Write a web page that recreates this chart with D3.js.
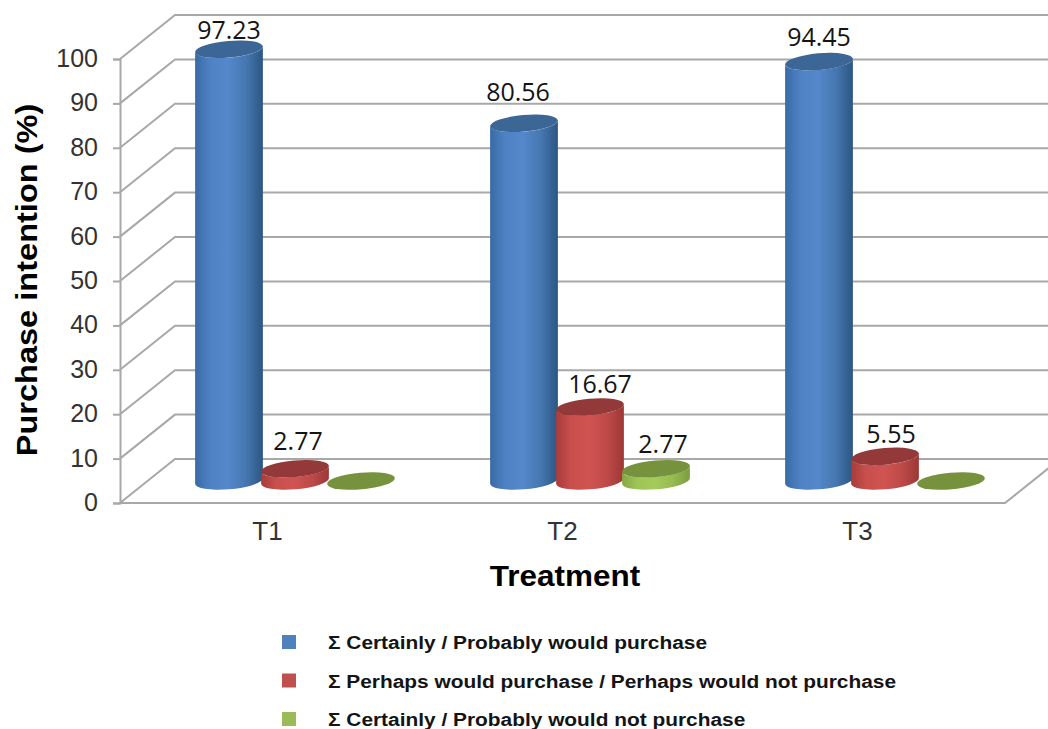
<!DOCTYPE html>
<html>
<head>
<meta charset="utf-8">
<script src="https://cdn.jsdelivr.net/npm/d3@7"></script>
<style>
html, body { margin: 0; padding: 0; background: #fff; }
svg { display: block; }
text { fill: #141414; }
</style>
</head>
<body>
<svg id="chart" width="1048" height="729"></svg>
<script>
// Chart data
const treatments = ["T1", "T2", "T3"];
const seriesNames = [
  "Σ Certainly / Probably would purchase",
  "Σ Perhaps would purchase / Perhaps would not purchase",
  "Σ Certainly / Probably would not purchase"
];
const certainlyWould = [97.23, 80.56, 94.45];
const perhapsWould = [2.77, 16.67, 5.55];
const certainlyNot = [0, 2.77, 0];
const seriesValues = [certainlyWould, perhapsWould, certainlyNot];
const yTicks = d3.range(0, 101, 10);

// Layout
const width = 1048, height = 729;
const plot = { left: 120, right: 1005, top: 59, bottom: 503 };
const depth = { x: 55, y: 44 };          // offset of the back wall
const barDepth = { x: 27.5, y: 22 };     // cylinders stand mid-way along the floor
const seriesStep = 66;
const ellipse = { a: 34, b: 8.3, tilt: -5 };

// Per-label nudges so that numbers sit just above their cylinder tops
const labelShift = [
  [{ dx: 0, dy: -10 }, { dx: 3, dy: -19 }, null],
  [{ dx: -6, dy: -22 }, { dx: 10, dy: -14 }, { dx: 7, dy: -16 }],
  [{ dx: 0, dy: -16 }, { dx: 6, dy: -13 }, null]
];

const palettes = [
  { edgeL: "#386aa6", mid: "#5488cb", edgeR: "#2c5682", top: "#3c6696" },
  { edgeL: "#a83c3a", mid: "#d05451", edgeR: "#9c3836", top: "#93393a" },
  { edgeL: "#86a844", mid: "#a4cb5a", edgeR: "#7d9c3f", top: "#76923c" }
];
const legendColors = ["#4f81bd", "#c0504d", "#9bbb59"];

const svg = d3.select("#chart");
const y = d3.scaleLinear().domain([0, 100]).range([plot.bottom, plot.top]);
const x = d3.scaleBand().domain(treatments).range([plot.left, plot.right]);
const xSeries = d3.scalePoint().domain([0, 1, 2]).range([-seriesStep, seriesStep]);

// Gradients that give the cylinders their rounded shading
const defs = svg.append("defs");
palettes.forEach((p, i) => {
  const g = defs.append("linearGradient").attr("id", "body" + i)
    .attr("x1", 0).attr("x2", 1).attr("y1", 0).attr("y2", 0);
  g.append("stop").attr("offset", "0%").attr("stop-color", p.edgeL);
  g.append("stop").attr("offset", "22%").attr("stop-color", d3.interpolateRgb(p.edgeL, p.mid)(0.8));
  g.append("stop").attr("offset", "48%").attr("stop-color", p.mid);
  g.append("stop").attr("offset", "75%").attr("stop-color", d3.interpolateRgb(p.mid, p.edgeR)(0.35));
  g.append("stop").attr("offset", "100%").attr("stop-color", p.edgeR);
});

// Walls and floor
const gridColor = "#a8a8a8";
const grid = svg.append("g").attr("fill", "none").attr("stroke", gridColor).attr("stroke-width", 2);
grid.selectAll("path.wall").data(yTicks).join("path")
  .attr("class", "wall")
  .attr("d", d => `M${plot.left},${y(d)}L${plot.left + depth.x},${y(d) - depth.y}H${width}`);
grid.append("path")
  .attr("d", `M${plot.left},${y(0)}H${plot.right}L${plot.right + depth.x},${y(0) - depth.y}`);

// Axes
const yAxis = d3.axisLeft(y).tickValues(yTicks).tickSize(7).tickPadding(15).tickFormat(d3.format("d"));
const gy = svg.append("g").attr("transform", `translate(${plot.left},0)`).call(yAxis);
gy.selectAll("path").attr("stroke", gridColor).attr("stroke-width", 2);
gy.selectAll("line").attr("stroke", gridColor).attr("stroke-width", 2);
gy.selectAll("text").attr("font-family", "'Liberation Sans', Arial, sans-serif")
  .attr("font-size", 25).style("fill", "#333").attr("dy", "0.3em");

const xAxis = d3.axisBottom(x).tickSize(0).tickPadding(19);
const gx = svg.append("g").attr("transform", `translate(0,${plot.bottom})`).call(xAxis);
gx.select("path").remove();
gx.selectAll("text").attr("font-family", "'Liberation Sans', Arial, sans-serif")
  .attr("font-size", 26).style("fill", "#333");

// Geometry of a tilted ellipse: the points where its outline runs vertically
const phi = ellipse.tilt * Math.PI / 180;
const t0 = Math.atan2(-ellipse.b * Math.sin(phi), ellipse.a * Math.cos(phi));
const sideX = ellipse.a * Math.cos(t0) * Math.cos(phi) - ellipse.b * Math.sin(t0) * Math.sin(phi);
const sideY = ellipse.a * Math.cos(t0) * Math.sin(phi) + ellipse.b * Math.sin(t0) * Math.cos(phi);

function cylinderPath(cx, yTop, yBase) {
  const arc = `A${ellipse.a},${ellipse.b} ${ellipse.tilt} 0 0`;
  return `M${cx - sideX},${yTop - sideY}` +
    `L${cx - sideX},${yBase - sideY}` +
    `${arc} ${cx + sideX},${yBase + sideY}` +
    `L${cx + sideX},${yTop + sideY}` +
    `${arc.replace(/0 0$/, "0 1")} ${cx - sideX},${yTop - sideY}Z`;
}

// Cylinders, drawn per treatment from left to right
treatments.forEach((t, ti) => {
  const cx0 = x(t) + x.bandwidth() / 2 + barDepth.x;
  seriesValues.forEach((vals, si) => {
    const v = vals[ti];
    const cx = cx0 + xSeries(si);
    const base = y(0) - barDepth.y;
    const top = y(v) - barDepth.y;
    const g = svg.append("g");
    if (v > 0) {
      g.append("path").attr("d", cylinderPath(cx, top, base)).attr("fill", `url(#body${si})`);
    }
    g.append("ellipse")
      .attr("rx", ellipse.a).attr("ry", ellipse.b)
      .attr("transform", `translate(${cx},${top}) rotate(${ellipse.tilt})`)
      .attr("fill", palettes[si].top);
  });
});

// Value labels
treatments.forEach((t, ti) => {
  const cx0 = x(t) + x.bandwidth() / 2 + barDepth.x;
  seriesValues.forEach((vals, si) => {
    const shift = labelShift[ti][si];
    if (!shift) return;
    svg.append("text")
      .attr("x", cx0 + xSeries(si) + shift.dx)
      .attr("y", y(vals[ti]) - barDepth.y + shift.dy)
      .attr("text-anchor", "middle")
      .attr("font-family", "'Open Sans', sans-serif")
      .attr("font-size", 25)
      .text(d3.format(".2f")(vals[ti]));
  });
});

// Axis titles
svg.append("text")
  .attr("transform", "translate(37,280) rotate(-90) scale(1.085,1)")
  .attr("text-anchor", "middle")
  .attr("font-family", "'Liberation Sans', Arial, sans-serif")
  .attr("font-weight", "bold").attr("font-size", 30)
  .style("fill", "#000")
  .text("Purchase intention  (%)");
svg.append("text")
  .attr("transform", "translate(565,586) scale(1.05,1)")
  .attr("text-anchor", "middle")
  .attr("font-family", "'Liberation Sans', Arial, sans-serif")
  .attr("font-weight", "bold").attr("font-size", 30)
  .style("fill", "#000")
  .text("Treatment");

// Legend
const legendY = d3.scalePoint().domain([0, 1, 2]).range([642, 719]);
const legend = svg.append("g").selectAll("g").data(seriesNames).join("g")
  .attr("transform", (d, i) => `translate(282,${legendY(i)})`);
legend.append("rect")
  .attr("x", 0).attr("y", -7).attr("width", 14).attr("height", 14)
  .attr("fill", (d, i) => legendColors[i]);
legend.append("text")
  .attr("transform", "translate(46,7) scale(1.16,1)")
  .attr("font-family", "'Liberation Sans', Arial, sans-serif")
  .attr("font-weight", "bold").attr("font-size", 18)
  .text(d => d);
</script>
</body>
</html>
